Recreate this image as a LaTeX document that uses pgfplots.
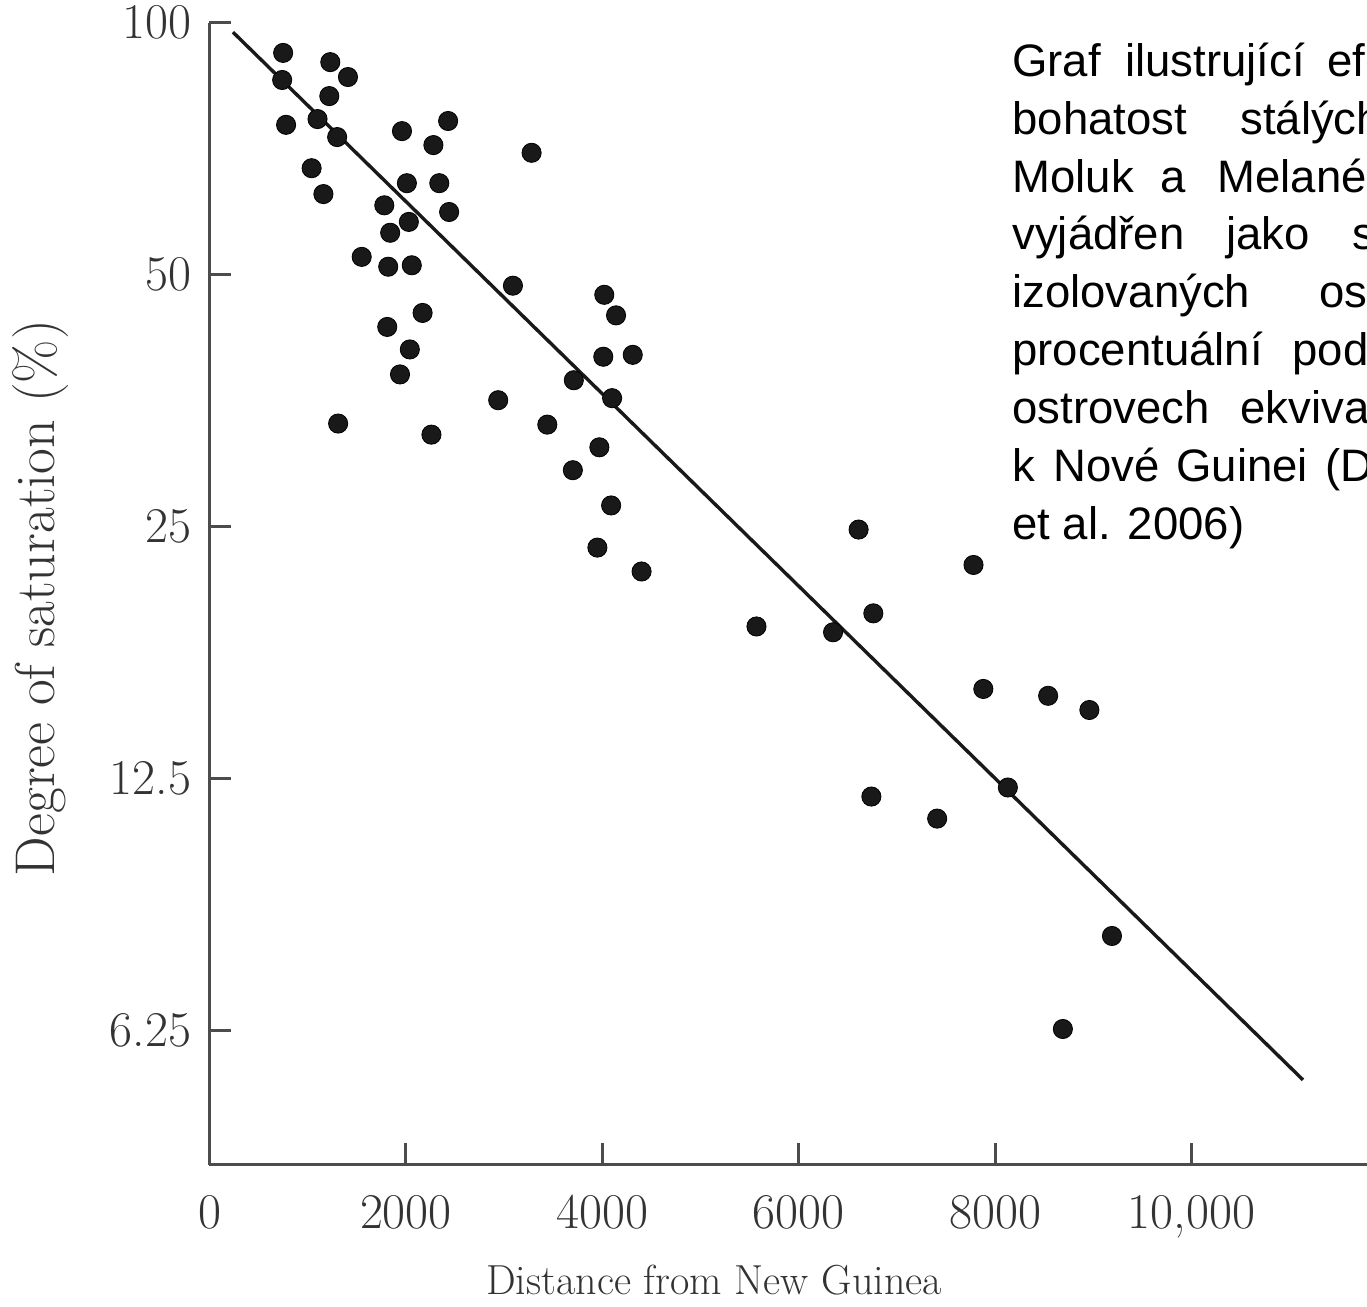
\documentclass[border=0pt]{standalone}
\usepackage{fontspec}
\usepackage{pgfplots}
\pgfplotsset{compat=1.18}
\newfontfamily\arialfont{Liberation Sans}

\begin{document}
\begin{tikzpicture}
\path[use as bounding box] (-104.75pt,-71pt) rectangle (578.75pt,582.5pt);
\clip (-104.75pt,-71pt) rectangle (578.75pt,582.5pt);
\begin{axis}[
  scale only axis, width=578.75pt, height=571.2pt,
  at={(0pt,0pt)}, anchor=south west,
  xmin=0, xmax=11787, ymin=4.32, ymax=100,
  ymode=log, log basis y=2,
  scaled x ticks=false,
  axis x line*=bottom, axis y line*=left,
  axis line style={line width=1.5pt, black!70},
  tick style={line width=1.5pt, black!70},
  major tick length=11pt, tick align=inside,
  xtick={0,2000,4000,6000,8000,10000},
  xticklabels={0,2000,4000,6000,8000,{10,000}},
  ytick={6.25,12.5,25,50,100},
  yticklabels={6.25,12.5,25,50,100},
  minor tick num=0,
  tick label style={font=\fontsize{25}{25}\selectfont, text=black!80},
  xticklabel style={inner sep=0pt, anchor=north, yshift=-15pt},
  yticklabel style={inner sep=0pt, anchor=east, xshift=-9pt},
  xlabel={Distance from New Guinea},
  ylabel={Degree of saturation (\%)},
  xlabel style={font=\fontsize{21}{21}\selectfont, text=black!80, at={(axis description cs:0.4359,0)}, anchor=base, yshift=-65pt, inner sep=0pt},
  ylabel style={font=\fontsize{28}{28}\selectfont, text=black!80, at={(axis description cs:-0.1464,0.4963)}, anchor=center, inner sep=0pt},
  clip=false,
]
\addplot[line width=1.7pt, black!90, no marks] coordinates {(239,97.4) (11135,5.46)};
\addplot[only marks, mark=*, mark size=4.8pt, mark options={fill=black!90, draw=none}] coordinates {
(750,92.0) (740,85.4) (1230,89.7) (1410,86.1) (1220,81.7) (780,75.5) (1100,76.7) (1300,73.0)
(1960,74.2) (2430,76.3) (2280,71.4) (3280,69.9) (1040,67.0) (1160,62.4) (2010,64.3) (2340,64.3)
(1780,60.5) (2440,59.4) (2030,57.8) (1840,56.1) (1550,52.5) (1820,51.1) (2060,51.3) (3090,48.5)
(4020,47.3) (4140,44.7) (2170,45.0) (1810,43.3) (2040,40.7) (1940,38.0) (4010,39.9) (4310,40.1)
(3710,37.4) (4100,35.6) (2940,35.4) (3440,33.1) (1310,33.2) (2260,32.2) (3970,31.1) (3700,29.2)
(4090,26.5) (3950,23.6) (4400,22.1) (6610,24.8) (7780,22.5) (6760,19.7) (5570,19.0) (6350,18.7)
(7880,16.0) (8540,15.7) (8960,15.1) (6740,11.9) (7410,11.2) (8130,12.2) (9190,8.11) (8690,6.28)
};
\end{axis}
\begin{scope}[every node/.style={anchor=base west, inner sep=0pt, font=\arialfont\fontsize{22.75}{27}\selectfont}]
\node at (401.25pt,544pt) {Graf};
\node at (457.75pt,544pt) {ilustrující};
\node at (558.75pt,544pt) {efekt};
\node at (401.25pt,515pt) {bohatost};
\node at (515.25pt,515pt) {stálých};
\node at (401.25pt,486pt) {Moluk};
\node at (475.25pt,486pt) {a};
\node at (503.75pt,486pt) {Melanésie};
\node at (401.25pt,457.5pt) {vyjádřen};
\node at (508.25pt,457.5pt) {jako};
\node at (571.25pt,457.5pt) {stupeň};
\node at (401.25pt,428.5pt) {izolovaných};
\node at (554.75pt,428.5pt) {ostrovů};
\node at (401.25pt,399.5pt) {procentuální};
\node at (541.25pt,399.5pt) {podíl};
\node at (401.25pt,370.5pt) {ostrovech};
\node at (515.25pt,370.5pt) {ekvivalentních};
\node at (401.25pt,341.5pt) {k};
\node at (421.75pt,341.5pt) {Nové};
\node at (483.25pt,341.5pt) {Guinei};
\node at (557.75pt,341.5pt) {(Diamond};
\node at (401.25pt,312.5pt) {et al. 2006)};
\end{scope}
\end{tikzpicture}
\end{document}
